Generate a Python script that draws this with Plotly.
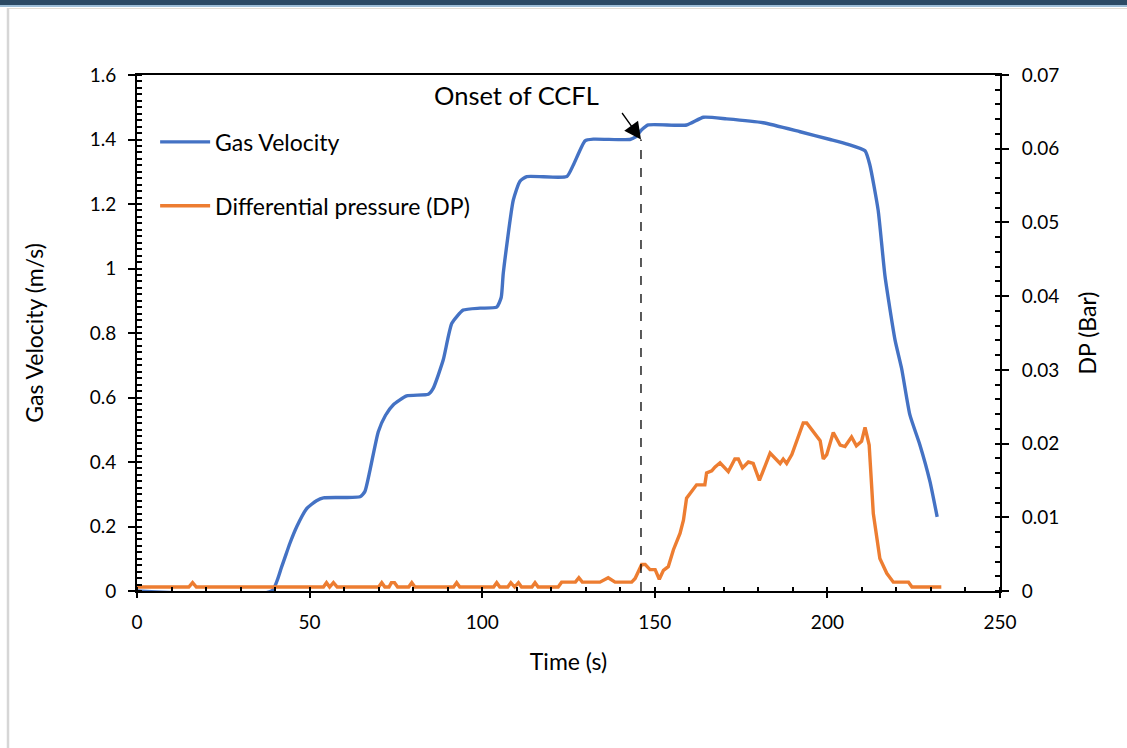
import plotly.graph_objects as go

# ---- data ----
vel_time = [0, 39, 41.9, 44.3, 46.3, 49.2, 52, 54, 60, 64.6, 66, 67.5, 69.9, 72, 74.2, 78.1, 84.4, 85.8,
            88.7, 91.2, 94.5, 99.4, 104.2, 105.5, 106.1, 109, 110.9, 112.9, 124.5, 126.4, 129.8,
            132.2, 142.8, 144.3, 146.2, 148.1, 159.2, 164.1, 170.8, 181.4, 192.1, 200.8, 206, 210.9,
            212.3, 214.7, 216.7, 219.6, 221.5, 223.9, 226.8, 229.7, 231.8]
gas_velocity = [0, 0, 0.075, 0.148, 0.2, 0.256, 0.28, 0.289, 0.29, 0.292, 0.308, 0.375, 0.494, 0.545,
                0.577, 0.605, 0.61, 0.628, 0.716, 0.83, 0.871, 0.877, 0.88, 0.91, 0.985,
                1.212, 1.27, 1.285, 1.285, 1.321, 1.396, 1.401, 1.40, 1.407, 1.43, 1.445, 1.445,
                1.469, 1.464, 1.452, 1.424, 1.40, 1.385, 1.365, 1.321, 1.181, 0.975, 0.778, 0.69,
                0.546, 0.453, 0.34, 0.23]

dp_time = [0, 15, 16.1, 17.2, 54, 54.9, 55.8, 56.9, 58, 70, 70.9, 71.8, 73, 73.7, 74.6, 75.5, 78.7,
           79.6, 80.5, 91.7, 92.6, 93.5, 103.3, 104.2, 105.1, 107.4, 108.3, 109.4, 110.5, 111.4,
           114.4, 115.3, 116.2, 122, 123, 127, 128, 129, 134.1, 136.5, 138.5, 143.3, 144.3, 146.2,
           147.2, 148.6, 150.1, 151.3, 152.5, 153.9, 155.4, 157.3, 158.3, 159.2, 162.1, 164.5, 165,
           166.5, 167.4, 168.9, 171.3, 173.2, 174.2, 175.4, 177.1, 178.5, 180.3, 183.4, 186.3, 187.2,
           188.2, 189.7, 193, 194, 197.9, 198.8, 199.8, 201.7, 203.7, 205.1, 207, 208.4, 209.9, 210.9,
           212.1, 213.3, 215.2, 217.2, 219.1, 223.5, 224.5, 233]
diff_pressure = [0.00054, 0.00054, 0.00113, 0.00054, 0.00054, 0.00113, 0.00054, 0.00113, 0.00054,
                 0.00054, 0.00113, 0.00054, 0.00054, 0.00113, 0.00113, 0.00054, 0.00054, 0.00113,
                 0.00054, 0.00054, 0.00113, 0.00054, 0.00054, 0.00113, 0.00054, 0.00054, 0.00113,
                 0.00054, 0.00113, 0.00054, 0.00054, 0.00113, 0.00054, 0.00054, 0.0012, 0.0012,
                 0.0018, 0.0012, 0.0012, 0.0018, 0.0012, 0.0012, 0.0017, 0.0036, 0.0036, 0.0029,
                 0.0029, 0.0016, 0.0028, 0.0033, 0.0056, 0.0078, 0.0096, 0.0126, 0.0144, 0.0144,
                 0.016, 0.0163, 0.0168, 0.0174, 0.0162, 0.0179, 0.0179, 0.0167, 0.0175, 0.0173,
                 0.015, 0.0187, 0.0173, 0.0179, 0.0173, 0.0185, 0.0228, 0.0228, 0.0204, 0.0179,
                 0.0185, 0.0215, 0.0198, 0.0196, 0.0209, 0.0197, 0.0203, 0.0222, 0.0198, 0.0105,
                 0.0044, 0.0024, 0.0012, 0.0012, 0.00054, 0.00054]

ccfl_time = 146.0
ccfl_velocity = 1.40
label_time = 110.0
label_velocity = 1.538

x_ticks = [0, 50, 100, 150, 200, 250]
FONT = "Lato"
BLUE = "#4472C4"
ORANGE = "#ED7D31"

fig = go.Figure()
fig.add_trace(go.Scatter(x=vel_time, y=gas_velocity, name="Gas Velocity", mode="lines",
                         line=dict(color=BLUE, width=3.4, shape="spline", smoothing=0.5),
                         legendgroup="a", yaxis="y"))
fig.add_trace(go.Scatter(x=dp_time, y=diff_pressure, name="Differential pressure (DP)", mode="lines",
                         line=dict(color=ORANGE, width=3.4), legendgroup="b", yaxis="y2"))

tickfont = dict(family=FONT, size=19, color="black")
common = dict(showgrid=False, zeroline=False, linecolor="black", linewidth=2,
              tickcolor="black", tickwidth=2, tickfont=tickfont)
TITLE_SIZE = 23

fig.update_layout(
    width=1127, height=748,
    margin=dict(l=137, r=127, t=75, b=157),
    paper_bgcolor="white", plot_bgcolor="white",
    font=dict(family=FONT, color="black"),
    showlegend=True,
    legend=dict(x=0.021, y=0.912, xanchor="left", yanchor="top", bgcolor="rgba(0,0,0,0)",
                font=dict(family=FONT, size=23, color="black"), tracegroupgap=31, itemwidth=50),
    xaxis=dict(range=[0, 250], tickvals=x_ticks, ticks="outside", ticklen=5, mirror=True,
               showline=True, ticklabelstandoff=8,
               minor=dict(dtick=10, ticks="inside", ticklen=4, tickcolor="black", tickwidth=1.5),
               title=dict(text="Time (s)", font=dict(family=FONT, size=TITLE_SIZE), standoff=22), **common),
    xaxis2=dict(range=[0, 250], tickvals=x_ticks, ticks="inside", ticklen=5, overlaying="x",
                anchor="y", side="bottom", showticklabels=False, showline=False, showgrid=False,
                zeroline=False, tickcolor="black", tickwidth=2),
    yaxis=dict(range=[0, 1.6], dtick=0.2, ticks="outside", ticklen=7, showline=True, ticklabelstandoff=8,
               minor=dict(dtick=0.02, ticks="inside", ticklen=5, tickcolor="black", tickwidth=1.5),
               title=dict(text="Gas Velocity (m/s)", font=dict(family=FONT, size=TITLE_SIZE), standoff=40),
               **common),
    yaxis3=dict(range=[0, 1.6], dtick=0.2, ticks="inside", ticklen=7, overlaying="y", side="left",
                anchor="x", showticklabels=False, showline=False, showgrid=False, zeroline=False,
                tickcolor="black", tickwidth=2),
    yaxis2=dict(range=[0, 0.07], dtick=0.01, ticks="outside", ticklen=7, showline=True,
                overlaying="y", side="right", anchor="x", ticklabelstandoff=9,
                minor=dict(dtick=0.002, ticks="inside", ticklen=5, tickcolor="black", tickwidth=1.5),
                title=dict(text="DP (Bar)", font=dict(family=FONT, size=TITLE_SIZE), standoff=22), **common),
    yaxis4=dict(range=[0, 0.07], dtick=0.01, ticks="inside", ticklen=7, overlaying="y", side="right",
                anchor="x", showticklabels=False, showline=False, showgrid=False, zeroline=False,
                tickcolor="black", tickwidth=2),
)

# dashed marker line for onset of CCFL
fig.add_shape(type="line", xref="x", yref="y", x0=ccfl_time, x1=ccfl_time, y0=0, y1=ccfl_velocity,
              line=dict(color="black", width=1.3, dash="dash"))
# arrow
fig.add_annotation(x=ccfl_time, y=ccfl_velocity, xref="x", yref="y", ax=-20, ay=-28, text="",
                   showarrow=True, arrowhead=2, arrowsize=2.6, arrowwidth=1.3, arrowcolor="black",
                   standoff=0)
fig.add_annotation(x=label_time, y=label_velocity, xref="x", yref="y", text="Onset of CCFL",
                   showarrow=False, font=dict(family=FONT, size=25.5, color="black"))

# page frame decorations (screenshot border)
def py(p):
    return (591 - p) / 516
def px(p):
    return (p - 137) / 863
fig.add_shape(type="rect", xref="paper", yref="paper", x0=px(-5), x1=px(1135), y0=py(5), y1=py(-5),
              line=dict(width=0), fillcolor="#2b4a64")
fig.add_shape(type="rect", xref="paper", yref="paper", x0=px(-5), x1=px(1135), y0=py(7), y1=py(5),
              line=dict(width=0), fillcolor="#9cbdd6")
fig.add_shape(type="line", xref="paper", yref="paper", x0=px(8), x1=px(1135), y0=py(8.5), y1=py(8.5),
              line=dict(color="#e2ded4", width=1))
fig.add_shape(type="line", xref="paper", yref="paper", x0=px(8), x1=px(8), y0=py(8), y1=py(760),
              line=dict(color="#d6d6d6", width=2.5))

fig.write_html("out.html", config={"displayModeBar": False},
               post_script="document.body.style.margin='0';document.body.style.overflow='hidden';")
